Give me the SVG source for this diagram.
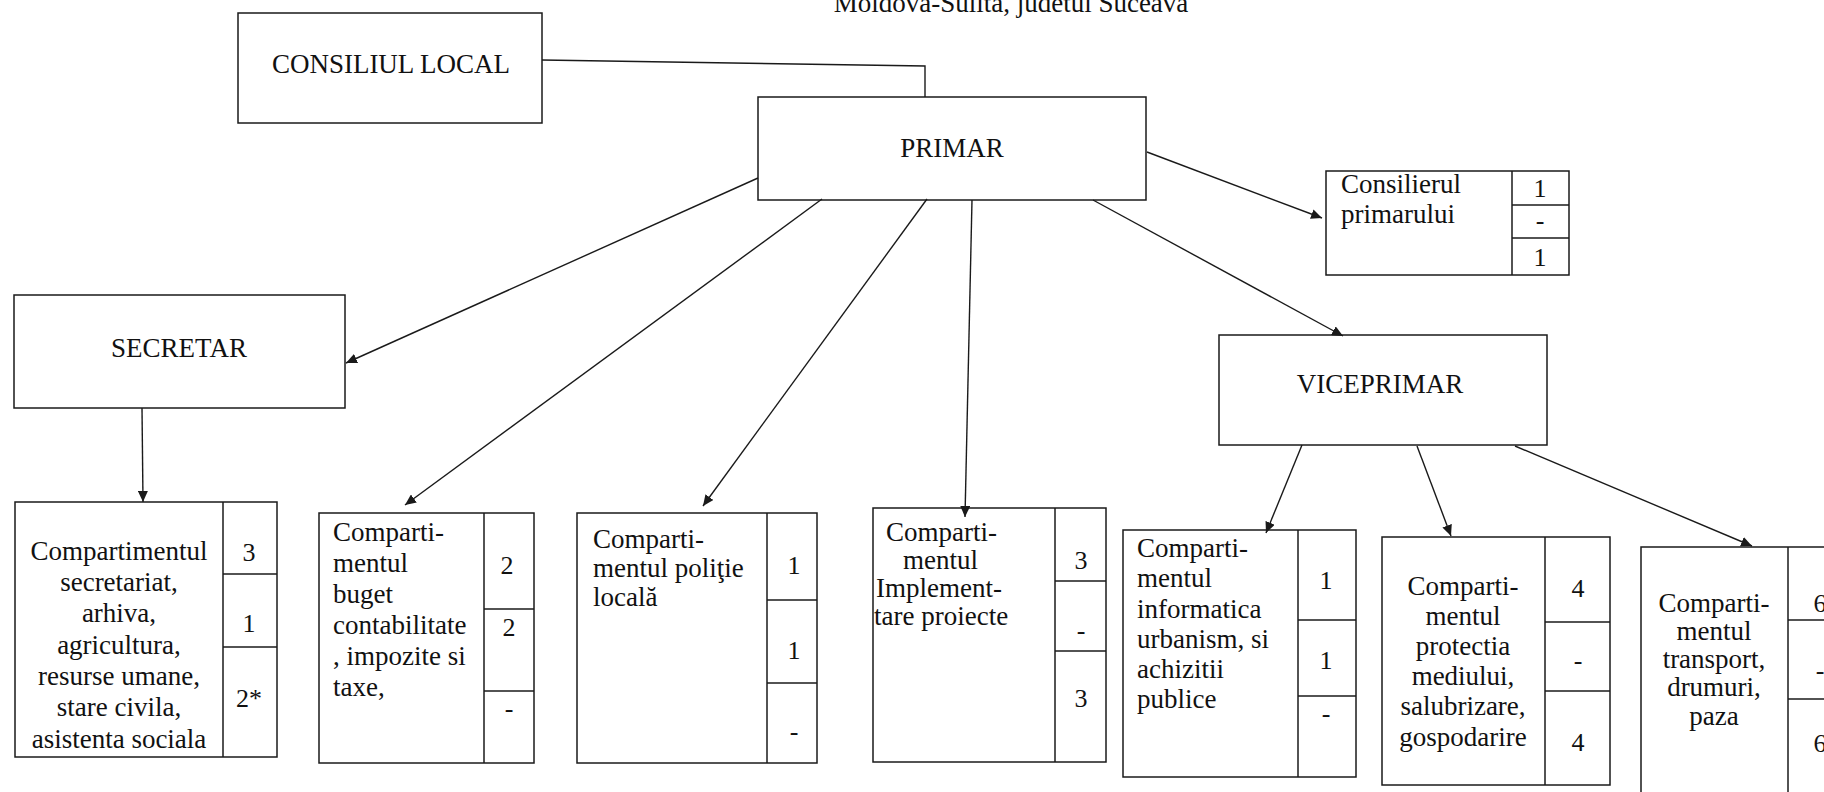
<svg xmlns="http://www.w3.org/2000/svg" width="1824" height="792" viewBox="0 0 1824 792">
<style>
.box{fill:none;stroke:#1a1a1a;stroke-width:1.5}
.ln{fill:none;stroke:#1a1a1a;stroke-width:1.4}
.t{font-family:"Liberation Serif","Times New Roman",serif;font-size:27px;fill:#111}
.c{text-anchor:middle}
.n{font-family:"Liberation Serif","Times New Roman",serif;font-size:26px;fill:#111;text-anchor:middle}
</style>
<defs>
<marker id="ah" markerWidth="12" markerHeight="10" refX="11" refY="5" orient="auto" markerUnits="userSpaceOnUse">
<path d="M0,0 L11,5 L0,10 z" fill="#1a1a1a"/>
</marker>
</defs>
<rect width="1824" height="792" fill="#fff"/>
<text class="t c" x="1011" y="12">Moldova-Sulita, judetul Suceava</text>

<g id="connectors">
<polyline class="ln" points="542,60 925,66 925,97"/>
<line class="ln" x1="758" y1="178" x2="346" y2="363" marker-end="url(#ah)"/>
<line class="ln" x1="822" y1="199" x2="405" y2="505" marker-end="url(#ah)"/>
<line class="ln" x1="927" y1="199" x2="703" y2="506" marker-end="url(#ah)"/>
<line class="ln" x1="972" y1="200" x2="965" y2="517" marker-end="url(#ah)"/>
<line class="ln" x1="1093" y1="200" x2="1343" y2="336" marker-end="url(#ah)"/>
<line class="ln" x1="1147" y1="152" x2="1322" y2="218" marker-end="url(#ah)"/>
<line class="ln" x1="142" y1="408" x2="143" y2="502" marker-end="url(#ah)"/>
<line class="ln" x1="1302" y1="445" x2="1266" y2="533" marker-end="url(#ah)"/>
<line class="ln" x1="1417" y1="446" x2="1451" y2="536" marker-end="url(#ah)"/>
<line class="ln" x1="1515" y1="446" x2="1752" y2="546" marker-end="url(#ah)"/>
</g>

<g id="consiliul-local">
<rect class="box" x="238" y="13" width="304" height="110"/>
<text class="t c" x="391" y="73">CONSILIUL LOCAL</text>
</g>

<g id="primar">
<rect class="box" x="758" y="97" width="388" height="103"/>
<text class="t c" x="952" y="157">PRIMAR</text>
</g>

<g id="consilierul">
<rect class="box" x="1326" y="171" width="243" height="104"/>
<line class="box" x1="1512" y1="171" x2="1512" y2="275"/>
<line class="box" x1="1512" y1="205" x2="1569" y2="205"/>
<line class="box" x1="1512" y1="238" x2="1569" y2="238"/>
<text class="t" x="1341" y="193">Consilierul</text>
<text class="t" x="1341" y="223">primarului</text>
<text class="n" x="1540" y="197">1</text>
<text class="n" x="1540" y="229">-</text>
<text class="n" x="1540" y="266">1</text>
</g>

<g id="secretar">
<rect class="box" x="14" y="295" width="331" height="113"/>
<text class="t c" x="179" y="357">SECRETAR</text>
</g>

<g id="viceprimar">
<rect class="box" x="1219" y="335" width="328" height="110"/>
<text class="t c" x="1380" y="393">VICEPRIMAR</text>
</g>

<g id="secretariat">
<rect class="box" x="15" y="502" width="262" height="255"/>
<line class="box" x1="223" y1="502" x2="223" y2="757"/>
<line class="box" x1="223" y1="574" x2="277" y2="574"/>
<line class="box" x1="223" y1="647" x2="277" y2="647"/>
<text class="t c" x="119" y="560">Compartimentul</text>
<text class="t c" x="119" y="591">secretariat,</text>
<text class="t c" x="119" y="622">arhiva,</text>
<text class="t c" x="119" y="654">agricultura,</text>
<text class="t c" x="119" y="685">resurse umane,</text>
<text class="t c" x="119" y="716">stare civila,</text>
<text class="t c" x="119" y="748">asistenta sociala</text>
<text class="n" x="249" y="561">3</text>
<text class="n" x="249" y="632">1</text>
<text class="n" x="249" y="707">2*</text>
</g>

<g id="buget">
<rect class="box" x="319" y="513" width="215" height="250"/>
<line class="box" x1="484" y1="513" x2="484" y2="763"/>
<line class="box" x1="484" y1="609" x2="534" y2="609"/>
<line class="box" x1="484" y1="691" x2="534" y2="691"/>
<text class="t" x="333" y="541">Comparti-</text>
<text class="t" x="333" y="572">mentul</text>
<text class="t" x="333" y="603">buget</text>
<text class="t" x="333" y="634">contabilitate</text>
<text class="t" x="333" y="665">, impozite si</text>
<text class="t" x="333" y="696">taxe,</text>
<text class="n" x="507" y="574">2</text>
<text class="n" x="509" y="636">2</text>
<text class="n" x="509" y="717">-</text>
</g>

<g id="politie">
<rect class="box" x="577" y="513" width="240" height="250"/>
<line class="box" x1="767" y1="513" x2="767" y2="763"/>
<line class="box" x1="767" y1="600" x2="817" y2="600"/>
<line class="box" x1="767" y1="683" x2="817" y2="683"/>
<text class="t" x="593" y="548">Comparti-</text>
<text class="t" x="593" y="577">mentul poliţie</text>
<text class="t" x="593" y="606">locală</text>
<text class="n" x="794" y="574">1</text>
<text class="n" x="794" y="659">1</text>
<text class="n" x="794" y="740">-</text>
</g>

<g id="implementare">
<rect class="box" x="873" y="508" width="233" height="254"/>
<line class="box" x1="1055" y1="508" x2="1055" y2="762"/>
<line class="box" x1="1055" y1="581" x2="1106" y2="581"/>
<line class="box" x1="1055" y1="651" x2="1106" y2="651"/>
<text class="t" x="886" y="541">Comparti-</text>
<text class="t" x="903" y="569">mentul</text>
<text class="t" x="876" y="597">Implement-</text>
<text class="t" x="874" y="625">tare proiecte</text>
<text class="n" x="1081" y="569">3</text>
<text class="n" x="1081" y="639">-</text>
<text class="n" x="1081" y="707">3</text>
</g>

<g id="informatica">
<rect class="box" x="1123" y="530" width="233" height="247"/>
<line class="box" x1="1298" y1="530" x2="1298" y2="777"/>
<line class="box" x1="1298" y1="620" x2="1356" y2="620"/>
<line class="box" x1="1298" y1="696" x2="1356" y2="696"/>
<text class="t" x="1137" y="557">Comparti-</text>
<text class="t" x="1137" y="587">mentul</text>
<text class="t" x="1137" y="618">informatica</text>
<text class="t" x="1137" y="648">urbanism, si</text>
<text class="t" x="1137" y="678">achizitii</text>
<text class="t" x="1137" y="708">publice</text>
<text class="n" x="1326" y="589">1</text>
<text class="n" x="1326" y="669">1</text>
<text class="n" x="1326" y="722">-</text>
</g>

<g id="protectia">
<rect class="box" x="1382" y="537" width="228" height="248"/>
<line class="box" x1="1545" y1="537" x2="1545" y2="785"/>
<line class="box" x1="1545" y1="622" x2="1610" y2="622"/>
<line class="box" x1="1545" y1="691" x2="1610" y2="691"/>
<text class="t c" x="1463" y="595">Comparti-</text>
<text class="t c" x="1463" y="625">mentul</text>
<text class="t c" x="1463" y="655">protectia</text>
<text class="t c" x="1463" y="685">mediului,</text>
<text class="t c" x="1463" y="715">salubrizare,</text>
<text class="t c" x="1463" y="746">gospodarire</text>
<text class="n" x="1578" y="597">4</text>
<text class="n" x="1578" y="669">-</text>
<text class="n" x="1578" y="751">4</text>
</g>

<g id="transport">
<rect class="box" x="1641" y="547" width="220" height="290"/>
<line class="box" x1="1788" y1="547" x2="1788" y2="837"/>
<line class="box" x1="1788" y1="620" x2="1861" y2="620"/>
<line class="box" x1="1788" y1="699" x2="1861" y2="699"/>
<text class="t c" x="1714" y="612">Comparti-</text>
<text class="t c" x="1714" y="640">mentul</text>
<text class="t c" x="1714" y="668">transport,</text>
<text class="t c" x="1714" y="696">drumuri,</text>
<text class="t c" x="1714" y="725">paza</text>
<text class="n" x="1820" y="612">6</text>
<text class="n" x="1820" y="679">-</text>
<text class="n" x="1820" y="752">6</text>
</g>
</svg>
